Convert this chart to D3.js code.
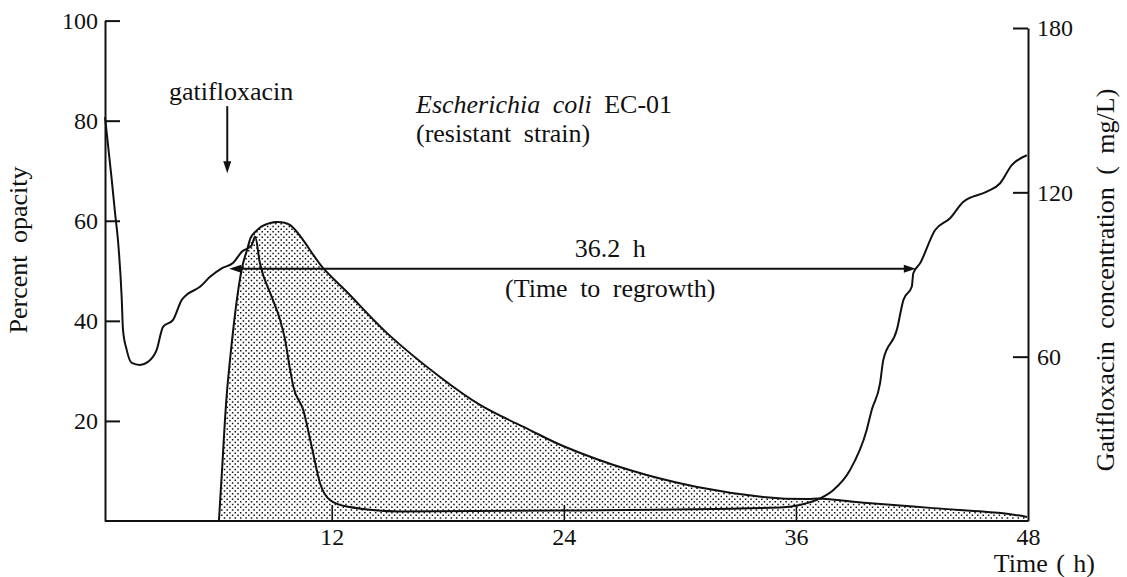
<!DOCTYPE html>
<html>
<head>
<meta charset="utf-8">
<script src="https://cdn.jsdelivr.net/npm/d3@7"></script>
<style>
  body { margin: 0; background: #fff; }
</style>
</head>
<body>
<div class="main"></div>
<script>
const WIDTH = 1127;
const HEIGHT = 577;
const FONT = "Liberation Serif";

// percent opacity (left axis)
const opacityTime = [0.28, 0.63, 0.80, 0.95, 1.14, 1.21, 1.40, 1.66, 2.09, 2.50, 2.95, 3.28, 3.80, 4.25, 4.50, 5.19, 5.71, 6.31, 6.91, 7.35, 7.86, 8.04,
  8.29, 8.90, 9.33, 9.59, 9.85, 10.02, 10.53, 10.97, 11.40, 11.91, 12.78, 15.53, 24.0, 35.2, 36.2, 37.25, 37.94, 38.80, 39.66, 39.92,
  40.35, 40.52, 41.22, 41.56, 41.99, 42.07, 42.42, 43.19, 43.97, 44.66, 45.87, 46.56, 47.16, 47.94];
const opacityValue = [80.7, 68.1, 61.5, 56.1, 44.8, 38.2, 34.2, 31.6, 31.2, 31.8, 34.2, 38.8, 40.2, 44.2, 45.2, 46.8, 48.8, 50.5, 51.6, 53.8, 55.1, 56.8,
  51.5, 44.8, 40.2, 36.2, 30.2, 26.8, 22.2, 14.8, 7.5, 4.2, 2.9, 1.9, 2.1, 2.7, 3.2, 4.5, 6.2, 10.2, 18.2, 22.2,
  27.5, 32.2, 38.2, 44.2, 46.8, 49.5, 51.5, 58.1, 60.5, 63.8, 65.8, 67.5, 71.1, 73.1];

// gatifloxacin concentration mg/L (right axis)
const concTime = [6.17, 6.33, 6.64, 7.36, 7.62, 7.83, 8.04, 8.4, 9.17, 9.84, 11.55, 12.79, 14.86, 17.6, 19.67, 22.25, 23.96, 27.4, 30.9, 34.3, 36.6, 37.2, 39.7, 43.1, 46.6, 47.95];
const concValue = [0, 18.6, 51.5, 92.4, 98.9, 103.7, 105.5, 107.7, 109.2, 108.1, 92.4, 83.6, 68.6, 52.6, 42.4, 33.2, 27.4, 18.6, 12.4, 8.8, 8.0, 8.2, 6.6, 4.7, 2.9, 1.5];

const timeTicks = [12, 24, 36, 48];
const opacityTicks = [20, 40, 60, 80, 100];
const concTicks = [60, 120, 180];

const opacity = opacityTime.map((t, i) => ({t: t, v: opacityValue[i]}));
const conc = concTime.map((t, i) => ({t: t, v: concValue[i]}));

var svg = d3.select(".main")
    .append("svg")
        .attr("width", WIDTH)
        .attr("height", HEIGHT);

var x = d3.scaleLinear().domain([0, 48]).range([99.6, 1028]);
var yL = d3.scaleLinear().domain([0, 100]).range([521, 20.6]);
var yR = d3.scaleLinear().domain([0, 180]).range([521, 28]);

var concCurve = d3.curveCatmullRom.alpha(0.5);
var concArea = d3.area().x(d => x(d.t)).y0(yR(0)).y1(d => yR(d.v)).curve(concCurve);

// dotted fill: a staggered dot grid clipped to the area
svg.append("clipPath")
    .attr("id", "concClip")
    .append("path")
        .datum(conc)
        .attr("d", concArea);

var step = 5.4;
var dots = d3.path();
for (var j = 0, py = yR(0) - 1; py > yR(115); j++, py -= step / 2) {
    for (var px = x(6) + (j % 2) * step / 2; px < x(48); px += step) {
        dots.rect(px, py, 1.5, 1.5);
    }
}
svg.append("path")
    .attr("d", dots.toString())
    .attr("fill", "#111")
    .attr("clip-path", "url(#concClip)");

svg.append("path")
    .datum(conc)
    .attr("d", d3.line().x(d => x(d.t)).y(d => yR(d.v)).curve(concCurve))
    .attr("fill", "none")
    .attr("stroke", "#111")
    .attr("stroke-width", 2);

svg.append("path")
    .datum(opacity)
    .attr("d", d3.line().x(d => x(d.t)).y(d => yL(d.v)).curve(d3.curveMonotoneX))
    .attr("fill", "none")
    .attr("stroke", "#111")
    .attr("stroke-width", 2);

// axes
function styleAxis(g) {
    g.attr("font-family", null).attr("font-size", null);
    g.selectAll("text")
        .attr("fill", "#111")
        .style("font-family", FONT)
        .style("font-size", "24px");
    g.selectAll("line, path").attr("stroke", "#111").attr("stroke-width", 2);
}

var x0 = 105;
svg.append("g")
    .attr("transform", `translate(${x0},0)`)
    .call(d3.axisLeft(yL).tickValues(opacityTicks).tickSizeInner(-15).tickSizeOuter(0).tickPadding(7))
    .call(styleAxis);

svg.append("g")
    .attr("transform", `translate(${x(48)},0)`)
    .call(d3.axisRight(yR).tickValues(concTicks).tickSizeInner(-15).tickSizeOuter(0).tickPadding(9))
    .call(styleAxis);

var xAxis = svg.append("g")
    .attr("transform", `translate(0,${yL(0)})`)
    .call(d3.axisBottom(x).tickValues(timeTicks).tickSizeInner(-16).tickSizeOuter(0).tickPadding(7))
    .call(styleAxis);
xAxis.select(".domain").remove();
xAxis.selectAll(".tick line").filter(d => d === 48).remove();
xAxis.selectAll(".tick line").attr("stroke-width", 1.5);

svg.append("line")
    .attr("x1", x0).attr("x2", x(48))
    .attr("y1", yL(0)).attr("y2", yL(0))
    .attr("stroke", "#111").attr("stroke-width", 2);

// text helper
function label(sel) {
    return sel
        .attr("fill", "#111")
        .style("font-family", FONT)
        .style("font-size", "26px")
        .style("word-spacing", "6px");
}

// axis titles
svg.append("text")
    .attr("transform", "translate(27,250) rotate(-90)")
    .attr("text-anchor", "middle")
    .call(label)
    .text("Percent opacity");

svg.append("text")
    .attr("transform", "translate(1114,280) rotate(-90)")
    .attr("text-anchor", "middle")
    .call(label)
    .text("Gatifloxacin concentration ( mg/L)");

svg.append("text")
    .attr("x", 1095)
    .attr("y", 572)
    .attr("text-anchor", "end")
    .call(label)
    .style("word-spacing", "2px")
    .text("Time ( h)");

// arrows, heads drawn as small triangles
function head(px, py, dx, dy) {
    // tip at (px, py), pointing along (dx, dy)
    var nx = -dy, ny = dx;
    return `M${px},${py}L${px - dx * 12 + nx * 4},${py - dy * 12 + ny * 4}L${px - dx * 12 - nx * 4},${py - dy * 12 - ny * 4}Z`;
}

var ay = yL(50.4);
svg.append("line")
    .attr("x1", x(6.7) + 6).attr("x2", x(42.2) - 6)
    .attr("y1", ay).attr("y2", ay)
    .attr("stroke", "#111").attr("stroke-width", 2);
svg.append("path").attr("d", head(x(6.7), ay, -1, 0)).attr("fill", "#111");
svg.append("path").attr("d", head(x(42.2), ay, 1, 0)).attr("fill", "#111");

svg.append("line")
    .attr("x1", x(6.6)).attr("x2", x(6.6))
    .attr("y1", yL(82.9)).attr("y2", yL(69.5) - 6)
    .attr("stroke", "#111").attr("stroke-width", 2);
svg.append("path").attr("d", head(x(6.6), yL(69.5), 0, 1)).attr("fill", "#111");

// annotations
function note(t, v, anchor, str) {
    return svg.append("text")
        .attr("x", x(t))
        .attr("y", yL(v))
        .attr("text-anchor", anchor)
        .call(label)
        .text(str);
}

note(6.8, 84.1, "middle", "gatifloxacin");
var title = note(16.36, 81.5, "start", "");
title.append("tspan").style("font-style", "italic").text("Escherichia coli");
title.append("tspan").text(" EC-01");
note(16.36, 75.7, "start", "(resistant strain)");
note(26.4, 52.7, "middle", "36.2 h");
note(26.4, 44.8, "middle", "(Time to regrowth)");
</script>
</body>
</html>
